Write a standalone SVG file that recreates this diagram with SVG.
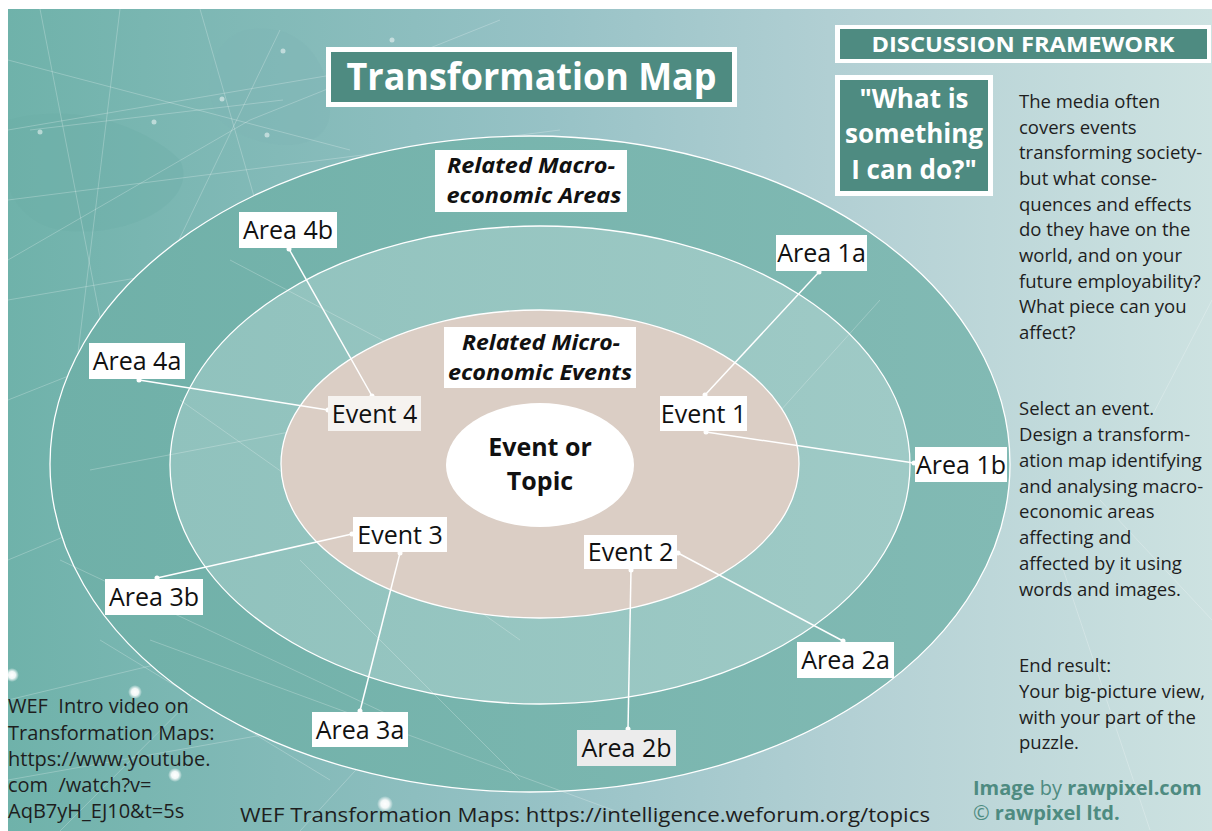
<svg xmlns="http://www.w3.org/2000/svg" width="1212" height="831" viewBox="0 0 1212 831">
<defs>
<linearGradient id="bg" x1="0" y1="0" x2="1" y2="0">
<stop offset="0" stop-color="#6fb2aa"/>
<stop offset="0.45" stop-color="#97c2c6"/>
<stop offset="0.7" stop-color="#b3d0d4"/>
<stop offset="1" stop-color="#cde2e1"/>
</linearGradient>
<linearGradient id="outerG" x1="0" y1="0" x2="1" y2="0">
<stop offset="0" stop-color="#6fb0a8"/>
<stop offset="1" stop-color="#82bab4"/>
</linearGradient>
<linearGradient id="midG" x1="0" y1="0" x2="1" y2="0">
<stop offset="0" stop-color="#90c2bd"/>
<stop offset="1" stop-color="#9fcac6"/>
</linearGradient>
<radialGradient id="glow">
<stop offset="0" stop-color="#ffffff" stop-opacity="1"/>
<stop offset="0.5" stop-color="#ffffff" stop-opacity="0.9"/>
<stop offset="1" stop-color="#ffffff" stop-opacity="0"/>
</radialGradient>
<style>
.ring{stroke:#ffffff;stroke-width:1.3}
.net{stroke:#ffffff;stroke-width:0.8;opacity:0.3;fill:none}
.conn{stroke:#ffffff;stroke-width:1.5;fill:none}
.dot{fill:#ffffff}
.box{fill:#ffffff}
.lbl{font-family:"Open Sans","Noto Sans","Liberation Sans",sans-serif;font-size:25px;fill:#111111;text-anchor:middle}
.hdr{font-family:"Open Sans","Noto Sans","Liberation Sans",sans-serif;font-weight:700;font-style:italic;font-size:21px;fill:#111111;text-anchor:middle}
.teal{fill:#4e8b81}
.wtxt{font-family:"Open Sans","Noto Sans","Liberation Sans",sans-serif;font-weight:700;fill:#ffffff;text-anchor:middle}
.para{font-family:"Open Sans","Noto Sans","Liberation Sans",sans-serif;font-size:18.5px;fill:#1e1e1e}
.foot{font-family:"Open Sans","Noto Sans","Liberation Sans",sans-serif;font-size:20px;fill:#1e1e1e;white-space:pre}
.credit{font-family:"Open Sans","Noto Sans","Liberation Sans",sans-serif;font-size:20px;fill:#4e8b81}
</style>
</defs>

<rect x="0" y="0" width="1212" height="831" fill="#ffffff"/>
<g id="background">
<rect x="8" y="9" width="1204" height="822" fill="url(#bg)"/>
<path d="M245 30 C300 20 330 60 330 110 C330 160 250 150 220 120 C200 90 210 40 245 30 Z" fill="#7fb4b4" opacity="0.35"/>
<path d="M8 120 C80 100 150 130 180 160 C200 200 130 240 60 230 C30 225 8 200 8 180 Z" fill="#6aaca4" opacity="0.3"/>
<path class="net" d="M8 130 L420 60 M8 200 L560 130 M8 300 L300 250 M40 9 L120 420 M120 9 L60 500 M200 9 L330 460 M8 60 L350 150 M8 260 L250 120 L500 20 M30 130 L283 100 M150 300 L280 30 M8 400 L260 300 M8 560 L200 480 M8 700 L300 630 M60 831 L330 560 M100 640 L330 780 M8 780 L460 700 M300 831 L420 700 M1060 560 L1150 830 M1150 420 L1212 300 M1100 500 L1212 620"/>
<g opacity="0.5">
<circle cx="40" cy="132" r="2.5" class="dot"/><circle cx="154" cy="122" r="2.5" class="dot"/><circle cx="222" cy="99" r="2.5" class="dot"/><circle cx="283" cy="51" r="2.5" class="dot"/><circle cx="392" cy="40" r="2.5" class="dot"/><circle cx="267" cy="135" r="2.5" class="dot"/>
</g>
<circle cx="12" cy="675" r="7" fill="url(#glow)"/>
<circle cx="135" cy="692" r="7" fill="url(#glow)"/>
<circle cx="175" cy="775" r="7" fill="url(#glow)"/>
<circle cx="385" cy="804" r="8" fill="url(#glow)"/>
</g>

<g id="rings">
<ellipse id="outer-ring" cx="530" cy="464" rx="480" ry="328" fill="url(#outerG)" class="ring"/>
<ellipse id="middle-ring" cx="540" cy="465" rx="370" ry="239" fill="url(#midG)" class="ring"/>
<path class="net" d="M60 560 L400 720 M150 640 L640 820 M300 560 L520 780 M180 400 L520 640 M90 470 L300 430 M700 500 L880 300 M230 260 L420 360"/>
<ellipse id="inner-ring" cx="540" cy="464" rx="259" ry="154" fill="#dbcec5" class="ring"/>
</g>

<g id="connectors">
<line class="conn" x1="289" y1="249" x2="372" y2="396"/>
<line class="conn" x1="139" y1="380" x2="328" y2="410"/>
<line class="conn" x1="819" y1="272" x2="705" y2="395"/>
<line class="conn" x1="706" y1="432" x2="914" y2="463"/>
<line class="conn" x1="678" y1="553" x2="843" y2="641"/>
<line class="conn" x1="631" y1="570" x2="628" y2="729"/>
<line class="conn" x1="352" y1="534" x2="157" y2="578"/>
<line class="conn" x1="400" y1="553" x2="360" y2="711"/>
<g class="dot">
<circle cx="289" cy="249" r="2.5"/><circle cx="372" cy="396" r="2.5"/>
<circle cx="139" cy="380" r="2.5"/><circle cx="328" cy="410" r="2.5"/>
<circle cx="819" cy="272" r="2.5"/><circle cx="705" cy="395" r="2.5"/>
<circle cx="706" cy="432" r="2.5"/><circle cx="914" cy="463" r="2.5"/>
<circle cx="678" cy="553" r="2.5"/><circle cx="843" cy="641" r="2.5"/>
<circle cx="631" cy="570" r="2.5"/><circle cx="628" cy="729" r="2.5"/>
<circle cx="352" cy="534" r="2.5"/><circle cx="157" cy="578" r="2.5"/>
<circle cx="400" cy="553" r="2.5"/><circle cx="360" cy="711" r="2.5"/>
</g>
</g>

<g id="center-topic">
<ellipse cx="540" cy="465" rx="94" ry="62" fill="#ffffff"/>
<text class="wtxt" x="540" y="456" font-size="25" style="fill:#111111">Event or</text>
<text class="wtxt" x="540" y="490" font-size="25" style="fill:#111111">Topic</text>
</g>

<g id="title">
<rect x="326" y="47" width="411" height="60" fill="#ffffff"/>
<rect x="331" y="52" width="401" height="50" class="teal"/>
<text class="wtxt" x="531.5" y="90" font-size="37" textLength="370" lengthAdjust="spacingAndGlyphs">Transformation Map</text>
</g>

<g id="macro-label">
<rect x="435" y="150" width="192" height="62" class="box"/>
<text class="hdr" x="531" y="173" textLength="168" lengthAdjust="spacingAndGlyphs">Related Macro-</text>
<text class="hdr" x="534" y="203" textLength="175" lengthAdjust="spacingAndGlyphs">economic Areas</text>
</g>

<g id="micro-label">
<rect x="444" y="327" width="192" height="61" class="box"/>
<text class="hdr" x="541" y="350" textLength="158" lengthAdjust="spacingAndGlyphs">Related Micro-</text>
<text class="hdr" x="540" y="380" textLength="184" lengthAdjust="spacingAndGlyphs">economic Events</text>
</g>

<g id="area-4b"><rect x="239" y="212" width="98" height="36" class="box"/><text class="lbl" x="288" y="239">Area 4b</text></g>
<g id="area-4a"><rect x="89" y="343" width="96" height="36" class="box"/><text class="lbl" x="137" y="370">Area 4a</text></g>
<g id="area-1a"><rect x="776" y="235" width="91" height="36" class="box"/><text class="lbl" x="821.5" y="262">Area 1a</text></g>
<g id="area-1b"><rect x="915" y="447" width="92" height="35" class="box"/><text class="lbl" x="961" y="474">Area 1b</text></g>
<g id="area-2a"><rect x="797" y="642" width="97" height="36" class="box"/><text class="lbl" x="845.5" y="669">Area 2a</text></g>
<g id="area-2b"><rect x="577" y="730" width="99" height="36" fill="#ececec"/><text class="lbl" x="626.5" y="757">Area 2b</text></g>
<g id="area-3a"><rect x="312" y="712" width="96" height="35" class="box"/><text class="lbl" x="360" y="739">Area 3a</text></g>
<g id="area-3b"><rect x="105" y="579" width="98" height="36" class="box"/><text class="lbl" x="154" y="606">Area 3b</text></g>
<g id="event-1"><rect x="660" y="396" width="87" height="35" class="box"/><text class="lbl" x="703.5" y="423">Event 1</text></g>
<g id="event-2"><rect x="584" y="535" width="93" height="34" class="box"/><text class="lbl" x="630.5" y="561">Event 2</text></g>
<g id="event-3"><rect x="353" y="517" width="94" height="35" class="box"/><text class="lbl" x="400" y="544">Event 3</text></g>
<g id="event-4"><rect x="328" y="396" width="93" height="35" fill="#f6f3f0"/><text class="lbl" x="374.5" y="423">Event 4</text></g>

<g id="discussion-framework">
<rect x="835" y="25" width="376" height="38" fill="#ffffff"/>
<rect x="840" y="29" width="367" height="30" class="teal"/>
<text class="wtxt" x="1023" y="52" font-size="22" textLength="303" lengthAdjust="spacingAndGlyphs">DISCUSSION FRAMEWORK</text>
</g>

<g id="question">
<rect x="835" y="75" width="158" height="121" fill="#ffffff"/>
<rect x="840" y="80" width="148" height="111" class="teal"/>
<text class="wtxt" x="914" y="108" font-size="26">"What is</text>
<text class="wtxt" x="914" y="143" font-size="26">something</text>
<text class="wtxt" x="914" y="179" font-size="26">I can do?"</text>
</g>

<g id="description">
<text class="para" x="1019" y="108">The media often</text>
<text class="para" x="1019" y="134">covers events</text>
<text class="para" x="1019" y="159">transforming society-</text>
<text class="para" x="1019" y="185">but what conse-</text>
<text class="para" x="1019" y="211">quences and effects</text>
<text class="para" x="1019" y="236">do they have on the</text>
<text class="para" x="1019" y="262">world, and on your</text>
<text class="para" x="1019" y="288">future employability?</text>
<text class="para" x="1019" y="313">What piece can you</text>
<text class="para" x="1019" y="339">affect?</text>
<text class="para" x="1019" y="415">Select an event.</text>
<text class="para" x="1019" y="441">Design a transform-</text>
<text class="para" x="1019" y="467">ation map identifying</text>
<text class="para" x="1019" y="493">and analysing macro-</text>
<text class="para" x="1019" y="518">economic areas</text>
<text class="para" x="1019" y="544">affecting and</text>
<text class="para" x="1019" y="570">affected by it using</text>
<text class="para" x="1019" y="596">words and images.</text>
<text class="para" x="1019" y="672">End result:</text>
<text class="para" x="1019" y="698">Your big-picture view,</text>
<text class="para" x="1019" y="724">with your part of the</text>
<text class="para" x="1019" y="749">puzzle.</text>
</g>

<g id="credits">
<text class="credit" x="973" y="795"><tspan font-weight="700">Image</tspan> by <tspan font-weight="700">rawpixel.com</tspan></text>
<text class="credit" x="973" y="820">© <tspan font-weight="700">rawpixel ltd.</tspan></text>
</g>

<g id="wef-video">
<text class="foot" x="8" y="713" xml:space="preserve">WEF  Intro video on</text>
<text class="foot" x="8" y="740">Transformation Maps:</text>
<text class="foot" x="8" y="766">https://www.youtube.</text>
<text class="foot" x="8" y="792" xml:space="preserve">com  /watch?v=</text>
<text class="foot" x="8" y="818">AqB7yH_EJ10&amp;t=5s</text>
</g>

<g id="wef-link">
<text class="foot" x="240" y="822" font-size="21" textLength="690" lengthAdjust="spacingAndGlyphs">WEF Transformation Maps: https://intelligence.weforum.org/topics</text>
</g>
</svg>
